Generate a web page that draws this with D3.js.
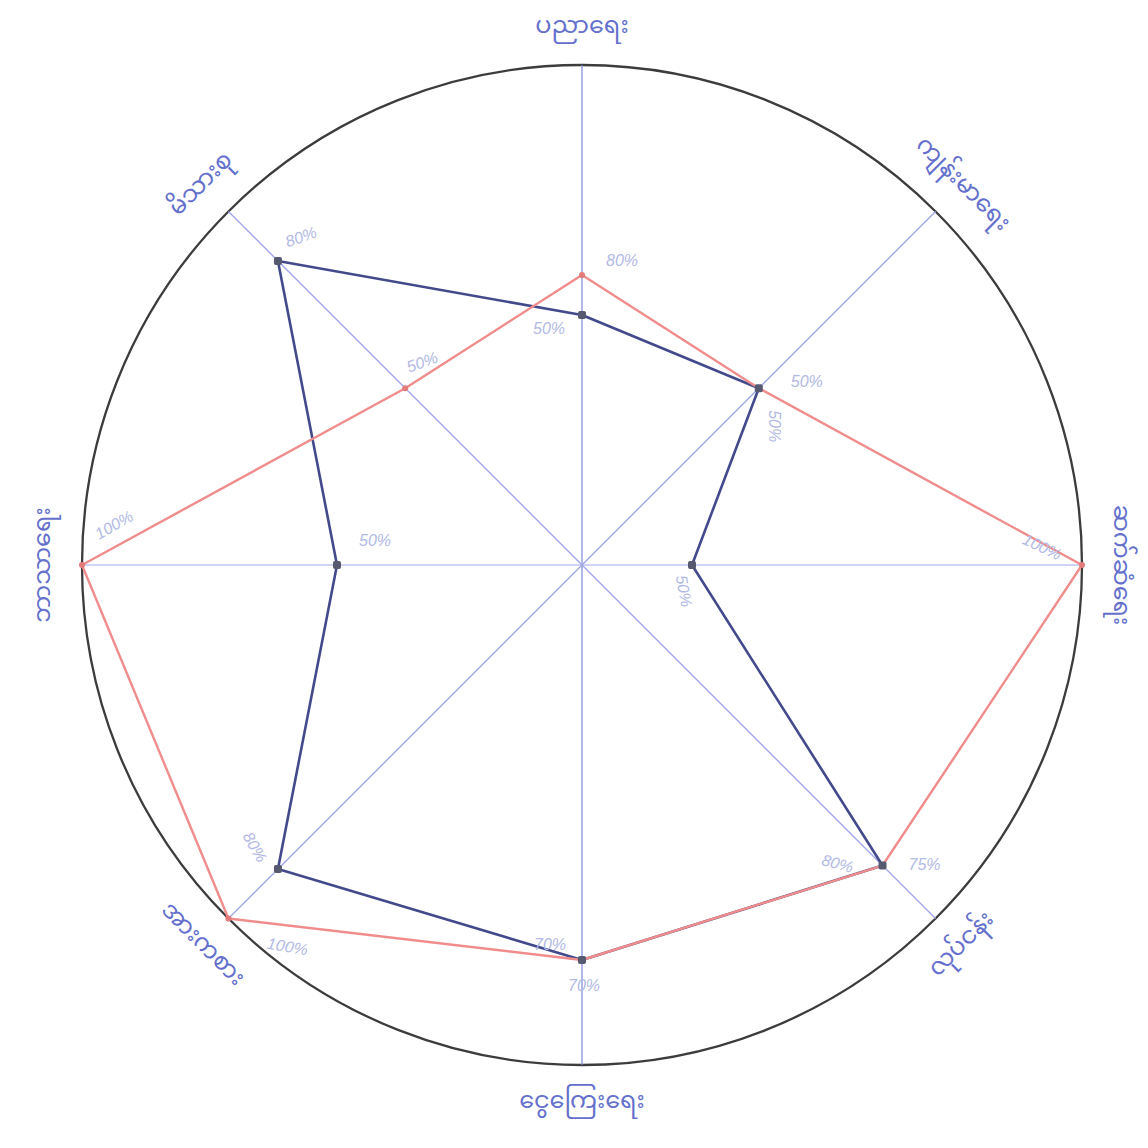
<!DOCTYPE html>
<html lang="my">
<head>
    <meta charset="UTF-8">
    <title>ဘဝ ချိန်ခွင်လျှာ</title>
    <script src="https://d3js.org/d3.v7.min.js"></script>
    <style>
        body {
            margin: 0;
            background: #fff;
        }
        .rim {
            fill: none;
            stroke: #3c3c3c;
            stroke-width: 2.3px;
        }
        .axis-label {
            font-family: "Noto Sans Myanmar", "Myanmar Text", "Padauk", "Noto Sans", sans-serif;
            font-size: 24px;
            fill: #6470cc;
        }
        .pct {
            font-family: "Liberation Sans", Arial, sans-serif;
            font-size: 16px;
            font-style: italic;
            fill: #b2b9e4;
        }
    </style>
</head>
<body>
<svg width="1148" height="1148"></svg>
<script>
    // axes, clockwise from the top
    const axes = ["ပညာရေး", "ကျန်းမာရေး", "ဆက်ဆံရေး", "လုပ်ငန်း",
                  "ငွေကြေးရေး", "အားကစား", "ဘာသာရေး", "မိသားစု"];

    // dark blue series (where the points sit on each spoke, 1 = rim)
    const blueValues = [0.50, 0.50, 0.22, 0.85, 0.79, 0.86, 0.49, 0.86];
    const blueLabels = ["50%", "50%", "50%", "80%", "70%", "80%", "50%", "80%"];

    // red series
    const redValues = [0.58, 0.50, 1.00, 0.85, 0.79, 1.00, 1.00, 0.50];
    const redLabels = ["80%", "50%", "100%", "75%", "70%", "100%", "100%", "50%"];

    const svg = d3.select("svg");
    const cx = 582, cy = 565, R = 500;

    const r = d3.scaleLinear().domain([0, 1]).range([0, R]);
    const angle = d3.scaleLinear().domain([0, axes.length]).range([0, 2 * Math.PI]);

    const pos = (i, v) => [cx + Math.sin(angle(i)) * r(v), cy - Math.cos(angle(i)) * r(v)];

    // rim
    svg.append("circle").attr("class", "rim")
        .attr("cx", cx).attr("cy", cy).attr("r", r(1));

    // spokes (the vertical one is a little darker in the drawing)
    svg.selectAll(".spoke").data(axes).enter().append("line")
        .attr("class", "spoke")
        .attr("x1", cx).attr("y1", cy)
        .attr("x2", (d, i) => pos(i, 1)[0])
        .attr("y2", (d, i) => pos(i, 1)[1])
        .attr("stroke", (d, i) => i % 4 === 0 ? "#7d87d8" : "#a2a9ea")
        .attr("stroke-width", (d, i) => i % 2 === 0 ? 1.2 : 1.4);

    // axis labels, turned along the rim
    svg.selectAll(".axis-label").data(axes).enter().append("text")
        .attr("class", "axis-label")
        .attr("text-anchor", "middle")
        .attr("dominant-baseline", "central")
        .attr("transform", (d, i) => {
            const [x, y] = pos(i, 1.075);
            let deg = angle(i) * 180 / Math.PI;
            if (deg > 90 && deg < 270) deg -= 180;
            else if (deg >= 270) deg -= 360;
            return `translate(${x},${y}) rotate(${deg})`;
        })
        .text(d => d);

    const line = d3.line();

    function drawSeries(values, color, width) {
        const pts = values.map((v, i) => pos(i, v));
        svg.append("path")
            .attr("d", line(pts) + "Z")
            .attr("fill", "none")
            .attr("stroke", color)
            .attr("stroke-width", width)
            .attr("stroke-linejoin", "round");
        return pts;
    }

    const bluePts = drawSeries(blueValues, "#434a8c", 2.6);
    const redPts = drawSeries(redValues, "#f08c8c", 2.4);

    svg.selectAll(".red-dot").data(redPts).enter().append("circle")
        .attr("cx", d => d[0]).attr("cy", d => d[1]).attr("r", 3)
        .attr("fill", "#e27a7a");
    svg.selectAll(".blue-dot").data(bluePts).enter().append("rect")
        .attr("x", d => d[0] - 4).attr("y", d => d[1] - 4)
        .attr("width", 8).attr("height", 8).attr("rx", 2)
        .attr("fill", "#555a70");

    // hand-placed percentage notes: [dx, dy, rotate]
    const blueNote = [[-33, 13, 0], [16, 38, 90], [-8, 26, 80], [-45, -2, 15],
                      [-32, -16, 0], [-23, -22, 60], [38, -25, 0], [23, -24, -20]];
    const redNote = [[40, -15, 0], [48, -7, 0], [-40, -18, 25], [42, -1, 0],
                     [2, 25, 0], [59, 28, 10], [32, -40, -30], [17, -26, -20]];

    function notes(pts, labels, offs) {
        svg.append("g").selectAll("text").data(labels).enter().append("text")
            .attr("class", "pct")
            .attr("text-anchor", "middle")
            .attr("dominant-baseline", "central")
            .attr("transform", (d, i) =>
                `translate(${pts[i][0] + offs[i][0]},${pts[i][1] + offs[i][1]}) rotate(${offs[i][2]})`)
            .text(d => d);
    }
    notes(bluePts, blueLabels, blueNote);
    notes(redPts, redLabels, redNote);
</script>
</body>
</html>
